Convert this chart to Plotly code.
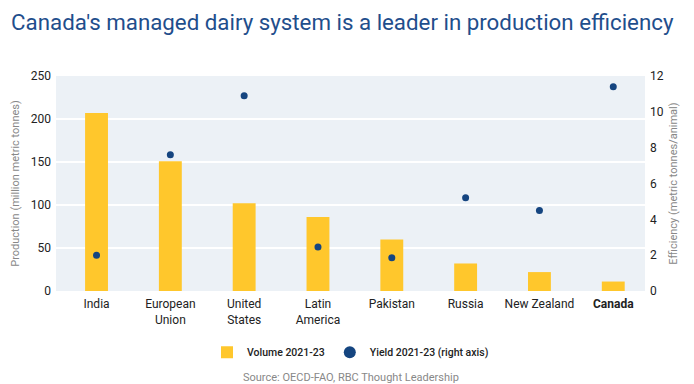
import plotly.graph_objects as go

categories = ["India", "European<br>Union", "United<br>States", "Latin<br>America",
              "Pakistan", "Russia", "New Zealand", "<b>Canada</b>"]
volume = [207, 151, 102, 86, 60, 32, 22, 11]
yield_vals = [2.0, 7.6, 10.9, 2.45, 1.85, 5.2, 4.5, 11.4]
left_ticks = [0, 50, 100, 150, 200, 250]
right_ticks = [0, 2, 4, 6, 8, 10, 12]

FONT = "Roboto"
fig = go.Figure()
fig.add_trace(go.Bar(
    x=categories, y=volume, name="Volume 2021-23",
    marker=dict(color="#FFC72C", line=dict(width=0)), width=0.31,
))
fig.add_trace(go.Scatter(
    x=categories, y=yield_vals, name="Yield 2021-23 (right axis)", yaxis="y2",
    mode="markers", marker=dict(color="#154580", size=7),
))

fig.update_layout(
    width=694, height=384,
    margin=dict(l=56, r=49, t=76, b=93, autoexpand=False),
    paper_bgcolor="white", plot_bgcolor="#ECF1F6",
    font=dict(family=FONT, size=12, color="#222"),
    title=dict(text="Canada's managed dairy system is a leader in production efficiency",
               x=0.016, xanchor="left", y=0.943, yanchor="middle",
               font=dict(family=FONT, size=22.3, color="#1F4E8C")),
    xaxis=dict(showgrid=False, tickfont=dict(size=12, color="#222"), ticks="",
               range=[-0.549, 7.43], automargin=False, fixedrange=True,
               ticklabelstandoff=4),
    yaxis=dict(range=[0, 250], tickvals=left_ticks, gridcolor="white", gridwidth=2,
               zeroline=False, showline=False, automargin=False,
               tickfont=dict(size=12, color="#222"), ticklabelstandoff=4,
               title=dict(text="Production (million metric tonnes)",
                          font=dict(size=11, color="#888"), standoff=8)),
    yaxis2=dict(range=[0, 12], tickvals=right_ticks, overlaying="y", side="right",
                showgrid=False, zeroline=False, showline=False, automargin=False,
                tickfont=dict(size=12, color="#222"), ticklabelstandoff=4,
                title=dict(text="Efficiency (metric tonnes/animal)",
                           font=dict(size=11, color="#888"), standoff=6)),
    legend=dict(orientation="h", x=0.5, xanchor="center", y=-0.285, yanchor="middle",
                font=dict(size=10.5, color="#222", weight=500), itemsizing="constant",
                itemwidth=30),
    bargap=0.69,
    annotations=[dict(text="Source: OECD-FAO, RBC Thought Leadership",
                      xref="paper", yref="paper", x=0.5, y=-0.40, yanchor="middle",
                      showarrow=False, font=dict(size=11, color="#888"))],
)

fig.write_html("out.html", config={"displayModeBar": False},
               post_script="document.body.style.margin='0';")
